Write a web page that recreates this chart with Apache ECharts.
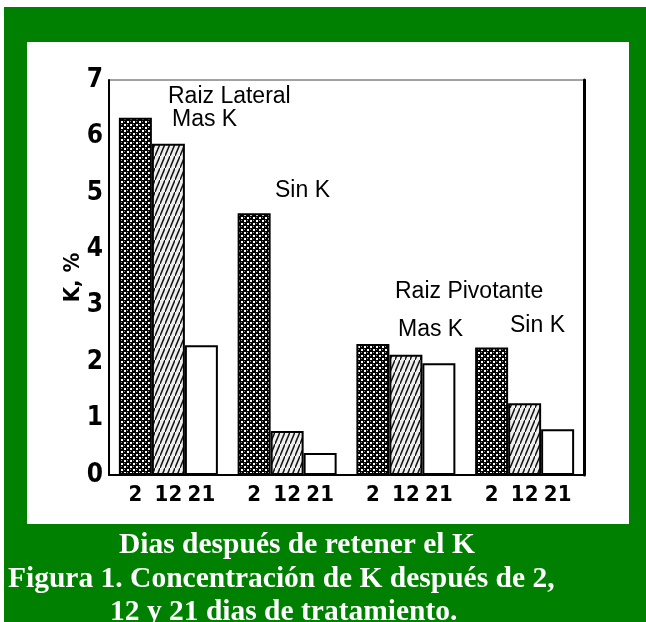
<!DOCTYPE html>
<html>
<head>
<meta charset="utf-8">
<script src="https://cdn.jsdelivr.net/npm/echarts@6/dist/echarts.min.js"></script>
<style>
  html, body { margin: 0; padding: 0; background: #fff; }
  #chart { width: 646px; height: 622px; }
</style>
</head>
<body>
<div id="chart"></div>
<script>
// groups: Raiz Lateral (Mas K, Sin K), Raiz Pivotante (Mas K, Sin K)
const groups = ['Lateral Mas K', 'Lateral Sin K', 'Pivotante Mas K', 'Pivotante Sin K']
const dayLabels = ['2', '12', '21']
const day2 = [6.33, 4.64, 2.32, 2.26]
const day12 = [5.87, 0.78, 2.13, 1.27]
const day21 = [2.3, 0.39, 1.98, 0.81]
const yTicks = [0, 1, 2, 3, 4, 5, 6, 7]

function checkerPattern() {
  const c = document.createElement('canvas')
  c.width = 6; c.height = 6
  const g = c.getContext('2d')
  g.fillStyle = '#000'
  g.fillRect(0, 0, 6, 6)
  g.fillStyle = '#fff'
  g.fillRect(1, 1, 2, 2)
  g.fillRect(4, 4, 2, 2)
  g.fillStyle = '#999'
  g.fillRect(4, 1, 1, 1)
  g.fillRect(1, 4, 1, 1)
  return c
}

function hatchPattern() {
  const c = document.createElement('canvas')
  c.width = 5; c.height = 12
  const g = c.getContext('2d')
  g.fillStyle = '#eee'
  g.fillRect(0, 0, 5, 12)
  g.strokeStyle = '#111'
  g.lineWidth = 1.5
  g.beginPath()
  g.moveTo(-1, 14.4)
  g.lineTo(6, -2.4)
  g.stroke()
  return c
}

const fills = [
  { image: checkerPattern(), repeat: 'repeat' },
  { image: hatchPattern(), repeat: 'repeat' },
  '#fff'
]
const seriesData = [day2, day12, day21]

const chart = echarts.init(document.getElementById('chart'))

const noteFont = { fontFamily: 'Liberation Sans', fontSize: 23, fill: '#000', verticalAlign: 'middle' }
const capFont = { fontFamily: 'Liberation Serif', fontWeight: 'bold', fontSize: 29.5, fill: '#fff', verticalAlign: 'middle' }

chart.setOption({
  animation: false,
  backgroundColor: '#fff',
  grid: {
    left: 109, right: 62, top: 80, bottom: 147,
    show: true, borderColor: '#444', borderWidth: 1, backgroundColor: 'transparent'
  },
  xAxis: {
    type: 'category',
    data: groups,
    axisLine: { lineStyle: { color: '#000', width: 2 } },
    axisTick: { show: false },
    axisLabel: { show: false }
  },
  yAxis: [{
    type: 'value',
    min: 0, max: 7, interval: 1,
    name: 'K, %',
    nameLocation: 'middle',
    nameGap: 25,
    nameMoveOverlap: false,
    nameRotate: 90,
    nameTextStyle: { fontFamily: 'DejaVu Sans Condensed', fontWeight: 'bold', fontSize: 22, color: '#000' },
    axisLine: { show: true, lineStyle: { color: '#000', width: 2 } },
    axisTick: { show: false },
    splitLine: { show: false },
    axisLabel: {
      margin: 6,
      fontFamily: 'DejaVu Sans Condensed', fontWeight: 'bold', fontSize: 26, color: '#000',
      formatter: v => yTicks.includes(v) ? String(v) : ''
    }
  }, {
    type: 'value',
    position: 'right',
    min: 0, max: 7, interval: 1,
    axisLine: { show: true, lineStyle: { color: '#000', width: 3 } },
    axisTick: { show: false },
    splitLine: { show: false },
    axisLabel: { show: false }
  }],
  series: seriesData.map((d, i) => ({
    type: 'bar',
    name: dayLabels[i],
    data: d,
    barWidth: 33,
    barGap: '0%',
    itemStyle: { color: fills[i], borderColor: '#000', borderWidth: 2 },
    label: {
      show: true,
      position: 'bottom',
      distance: 9,
      formatter: dayLabels[i],
      fontFamily: 'DejaVu Sans Condensed', fontWeight: 'bold', fontSize: 22, color: '#000'
    }
  })),
  graphic: [
    { type: 'rect', z: -20, shape: { x: 4, y: 7, width: 642, height: 615 }, style: { fill: '#008000' } },
    { type: 'rect', z: -19, shape: { x: 27, y: 42, width: 602, height: 482 }, style: { fill: '#fff' } },
    { type: 'text', x: 168, y: 97, style: Object.assign({ text: 'Raiz Lateral' }, noteFont) },
    { type: 'text', x: 172, y: 120, style: Object.assign({ text: 'Mas K' }, noteFont) },
    { type: 'text', x: 275, y: 191, style: Object.assign({ text: 'Sin K' }, noteFont) },
    { type: 'text', x: 395, y: 292, style: Object.assign({ text: 'Raiz Pivotante' }, noteFont) },
    { type: 'text', x: 398, y: 330, style: Object.assign({ text: 'Mas K' }, noteFont) },
    { type: 'text', x: 510, y: 326, style: Object.assign({ text: 'Sin K' }, noteFont) },
    { type: 'text', x: 119, y: 545, style: Object.assign({ text: 'Dias después de retener el K' }, capFont) },
    { type: 'text', x: 8, y: 579, style: Object.assign({ text: 'Figura 1. Concentración de K después de 2,' }, capFont) },
    { type: 'text', x: 110, y: 612, style: Object.assign({ text: '12 y 21 dias de tratamiento.' }, capFont) }
  ]
})
</script>
</body>
</html>
